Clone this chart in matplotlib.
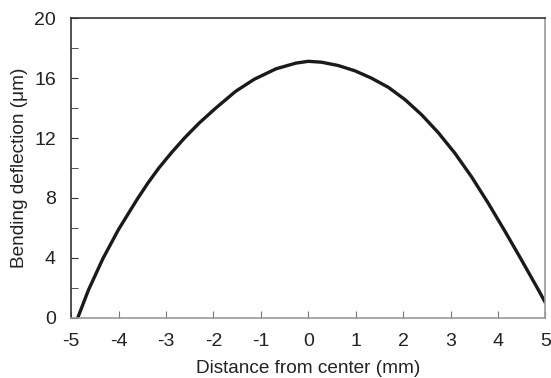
import numpy as np
import matplotlib
matplotlib.use("Agg")
import matplotlib.pyplot as plt

# values (distance in mm, deflection in um)
distance = [-4.86, -4.635, -4.33, -4.0, -3.6, -3.38, -3.15, -2.89, -2.61,
            -2.30, -1.95, -1.53, -1.14, -0.68, -0.26, 0.0, 0.28, 0.63,
            0.98, 1.33, 1.69, 2.04, 2.39, 2.74, 3.09, 3.44, 3.79, 4.14,
            4.49, 4.85, 5.0]
deflection = [0.0, 1.85, 3.95, 5.9, 7.95, 9.0, 10.0, 11.0, 12.0,
              13.0, 14.0, 15.12, 15.92, 16.62, 17.0, 17.12, 17.06, 16.84,
              16.49, 16.0, 15.38, 14.56, 13.55, 12.36, 10.99, 9.42, 7.67, 5.81,
              3.89, 1.87, 1.0]

x_ticks = [-5, -4, -3, -2, -1, 0, 1, 2, 3, 4, 5]
y_ticks = [0, 4, 8, 12, 16, 20]

plt.rcParams["font.family"] = ["Liberation Sans", "DejaVu Sans"]
plt.rcParams["axes.unicode_minus"] = False

fig = plt.figure(figsize=(5.51, 3.78), dpi=100)
ax = fig.add_axes([0.129, 0.159, 0.861, 0.793])

ax.plot(distance, deflection, color="#1a1a1a", lw=2.4,
        solid_capstyle="butt", solid_joinstyle="round")

ax.set_xlim(-5, 5)
ax.set_ylim(0, 20)
ax.set_xticks(x_ticks)
ax.set_yticks(y_ticks)
ax.set_yticks(np.arange(2, 20, 4), minor=True)

ax.tick_params(axis="both", which="both", direction="in", labelsize=14,
               labelcolor="#222222")
ax.tick_params(axis="x", which="major", length=5, color="#777777", pad=11)
ax.tick_params(axis="y", which="major", length=5, color="#333333", pad=11)
ax.tick_params(axis="y", which="minor", length=5, color="#333333")

ax.spines["left"].set_color("#333333")
ax.spines["top"].set_color("#333333")
ax.spines["right"].set_color("#999999")
ax.spines["bottom"].set_color("#999999")
for s in ax.spines.values():
    s.set_linewidth(1.2)

ax.set_xlabel("Distance from center (mm)", fontsize=13.7, color="#222222", labelpad=7)
ax.set_ylabel("Bending deflection (\u03bcm)", fontsize=13.7, color="#222222", labelpad=4)

fig.savefig("out.png", dpi=100)
